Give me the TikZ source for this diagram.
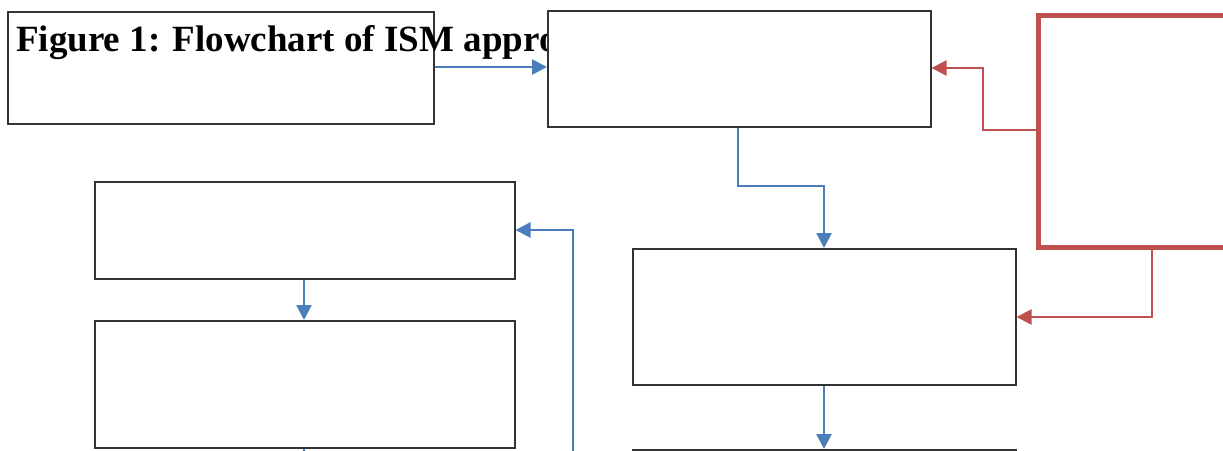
\documentclass[tikz,border=0pt]{standalone}
\usepackage{fontspec}
\setmainfont{Liberation Serif}
\usetikzlibrary{arrows.meta}
\definecolor{flowblue}{HTML}{4A7EBB}
\definecolor{flowred}{HTML}{C0504D}
\definecolor{boxline}{HTML}{333333}
\tikzset{
  box/.style={draw=boxline, fill=white, line width=1.5pt, inner sep=0pt, anchor=north west},
  redbox/.style={draw=flowred, fill=white, line width=5pt, inner sep=0pt, anchor=north west},
  bluearrow/.style={draw=flowblue, line width=2.6pt, -{Triangle[length=15pt,width=15pt]}},
  blueline/.style={draw=flowblue, line width=2.6pt},
  redarrow/.style={draw=flowred, line width=2.4pt, -{Triangle[length=15pt,width=15pt]}},
  title/.style={anchor=base west, inner sep=0pt, font=\fontsize{37}{42}\selectfont\bfseries},
}
\begin{document}
\begin{tikzpicture}[x=1pt,y=-1pt]
\useasboundingbox (0,0) rectangle (1223,450);
\clip (0,0) rectangle (1223,450);
% boxes
\node[box, minimum width=426pt, minimum height=112pt] (a) at (7,11) {};
\node[title] (t) at (16,51) {Figure 1: Flowchart of ISM approach};
\node[box, minimum width=383pt, minimum height=116pt] (b) at (547,10) {};
\node[redbox, minimum width=300pt, minimum height=232pt] (r) at (1036,13) {};
\node[box, minimum width=383pt, minimum height=136pt] (c) at (632,248) {};
\node[box, minimum width=383pt, minimum height=40pt] (f) at (632,449) {};
\node[box, minimum width=420pt, minimum height=97pt] (d) at (94,181) {};
\node[box, minimum width=420pt, minimum height=127pt] (e) at (94,320) {};
% coordinates
\coordinate (rl) at (1036,130);
\coordinate (rb) at (1152,245);
\coordinate (ebot) at (304,460);
\coordinate (loopstart) at (573,460);
% connectors
\draw[bluearrow] (a.east |- 0,67) -- (b.west |- 0,67);
\draw[redarrow] (rl) -| (983,68) -- (b.east |- 0,68);
\draw[bluearrow] (b.south -| 738,0) |- (824,186) -- (c.north -| 824,0);
\draw[redarrow] (rb) |- (c.east |- 0,317);
\draw[bluearrow] (c.south -| 824,0) -- (f.north -| 824,0);
\draw[bluearrow] (d.south -| 304,0) -- (e.north -| 304,0);
\draw[blueline] (e.south -| 304,0) -- (ebot);
\draw[bluearrow] (loopstart) |- (d.east |- 0,230);
\end{tikzpicture}
\end{document}
